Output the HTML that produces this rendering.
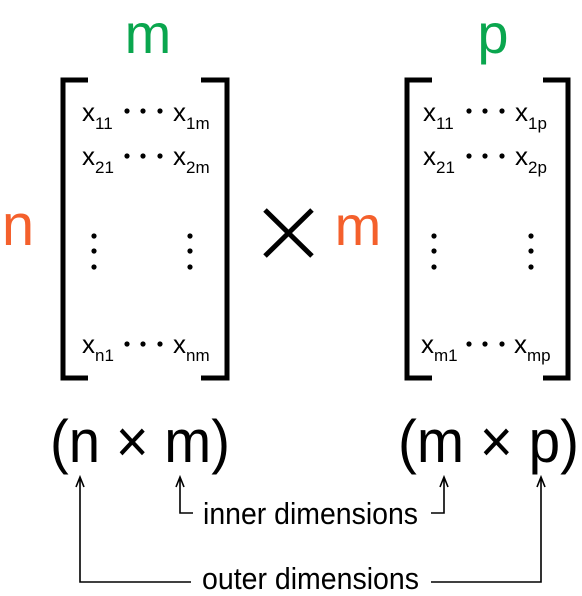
<!DOCTYPE html>
<html><head><meta charset="utf-8"><style>
html,body{margin:0;padding:0;background:#fff;}
svg{display:block;font-family:"Liberation Sans","DejaVu Sans",sans-serif;}
</style></head><body>
<svg width="582" height="596" viewBox="0 0 582 596">
<!-- left matrix -->
<g>
<text x="148" y="53" font-size="56" fill="#0aa64e" text-anchor="middle">m</text>
<text x="18" y="245" font-size="58" fill="#f4602c" text-anchor="middle">n</text>
<path d="M88,80 H63 V378 H88" fill="none" stroke="#000" stroke-width="5"/>
<path d="M201,80 H227 V378 H201" fill="none" stroke="#000" stroke-width="5"/>
<g font-size="26" fill="#000">
<text x="82" y="121">x<tspan font-size="17" dy="8">11</tspan></text>
<text x="173" y="121">x<tspan font-size="17" dy="8">1m</tspan></text>
<text x="82" y="165">x<tspan font-size="17" dy="8">21</tspan></text>
<text x="173" y="165">x<tspan font-size="17" dy="8">2m</tspan></text>
<text x="82" y="353">x<tspan font-size="17" dy="8">n1</tspan></text>
<text x="173" y="353">x<tspan font-size="17" dy="8">nm</tspan></text>
</g>
<g fill="#000">
<circle cx="127" cy="111" r="2.6"/><circle cx="143" cy="111" r="2.6"/><circle cx="160" cy="111" r="2.6"/>
<circle cx="127" cy="156" r="2.6"/><circle cx="143" cy="156" r="2.6"/><circle cx="160" cy="156" r="2.6"/>
<circle cx="127" cy="344" r="2.6"/><circle cx="143" cy="344" r="2.6"/><circle cx="160" cy="344" r="2.6"/>
<circle cx="94" cy="236" r="2.6"/><circle cx="94" cy="251" r="2.6"/><circle cx="94" cy="267" r="2.6"/>
<circle cx="190" cy="236" r="2.6"/><circle cx="190" cy="251" r="2.6"/><circle cx="190" cy="267" r="2.6"/>
</g>
</g>
<path d="M265,210 L312,256 M312,210 L265,256" stroke="#000" stroke-width="5"/>
<!-- right matrix -->
<g>
<text x="493" y="53" font-size="56" fill="#0aa64e" text-anchor="middle">p</text>
<text x="358" y="245" font-size="56" fill="#f4602c" text-anchor="middle">m</text>
<path d="M432,80 H407 V378 H432" fill="none" stroke="#000" stroke-width="5"/>
<path d="M543,80 H568 V378 H543" fill="none" stroke="#000" stroke-width="5"/>
<g font-size="26" fill="#000">
<text x="423" y="121">x<tspan font-size="17" dy="8">11</tspan></text>
<text x="515" y="121">x<tspan font-size="17" dy="8">1p</tspan></text>
<text x="423" y="165">x<tspan font-size="17" dy="8">21</tspan></text>
<text x="515" y="165">x<tspan font-size="17" dy="8">2p</tspan></text>
<text x="421" y="353">x<tspan font-size="17" dy="8">m1</tspan></text>
<text x="514" y="353">x<tspan font-size="17" dy="8">mp</tspan></text>
</g>
<g fill="#000">
<circle cx="469" cy="111" r="2.6"/><circle cx="485" cy="111" r="2.6"/><circle cx="502" cy="111" r="2.6"/>
<circle cx="469" cy="156" r="2.6"/><circle cx="485" cy="156" r="2.6"/><circle cx="502" cy="156" r="2.6"/>
<circle cx="469" cy="344" r="2.6"/><circle cx="485" cy="344" r="2.6"/><circle cx="502" cy="344" r="2.6"/>
<circle cx="434" cy="236" r="2.6"/><circle cx="434" cy="251" r="2.6"/><circle cx="434" cy="267" r="2.6"/>
<circle cx="531" cy="236" r="2.6"/><circle cx="531" cy="251" r="2.6"/><circle cx="531" cy="267" r="2.6"/>
</g>
</g>
<!-- dimension labels -->
<text x="50" y="462" font-size="60" fill="#000" textLength="180" lengthAdjust="spacingAndGlyphs">(n × m)</text>
<text x="398" y="462" font-size="60" fill="#000" textLength="181" lengthAdjust="spacingAndGlyphs">(m × p)</text>
<g fill="none" stroke="#000" stroke-width="1.6">
<path d="M193,513 H180 V478 M176,487 L180,477 L184,487"/>
<path d="M431,513 H444 V478 M440,487 L444,477 L448,487"/>
<path d="M191,582 H80 V478 M76,487 L80,477 L84,487"/>
<path d="M431,582 H541 V478 M537,487 L541,477 L545,487"/>
</g>
<text x="203" y="524" font-size="31" fill="#000" textLength="215" lengthAdjust="spacingAndGlyphs">inner dimensions</text>
<text x="202" y="589" font-size="31" fill="#000" textLength="217" lengthAdjust="spacingAndGlyphs">outer dimensions</text>
</svg>
</body></html>
